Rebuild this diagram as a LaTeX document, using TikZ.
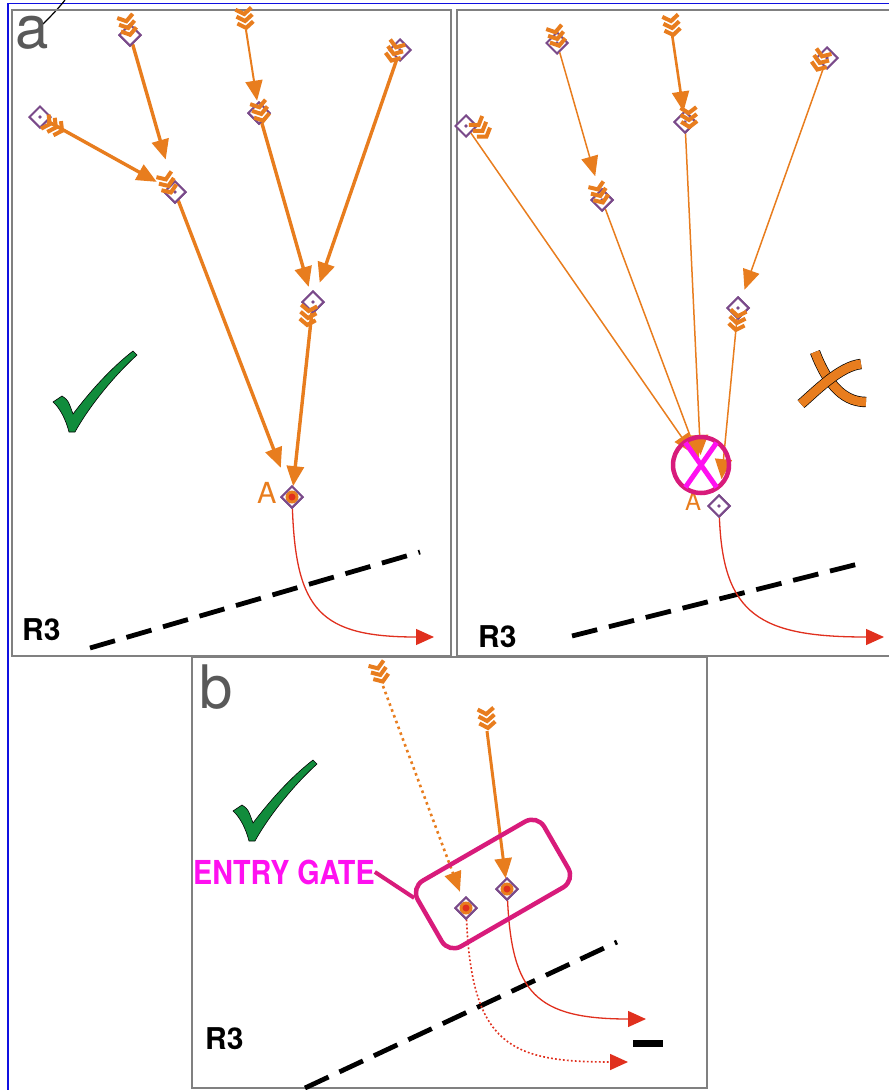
\documentclass[tikz,border=0pt]{standalone}
\usepackage{fontspec}
\setsansfont{TeX Gyre Heros}
\usepackage{xcolor}
\usetikzlibrary{arrows.meta, positioning, shapes.geometric}
\definecolor{floworange}{HTML}{E87D1E}
\definecolor{sitepurple}{HTML}{7A4A8A}
\definecolor{trackred}{HTML}{E0301E}
\definecolor{gatepink}{HTML}{D81B7B}
\definecolor{crossmag}{HTML}{FF10F0}
\definecolor{okgreen}{HTML}{118C3C}
\definecolor{frameblue}{HTML}{1010E0}

\begin{document}
\begin{tikzpicture}[x=1pt, y=-1pt,
  every node/.style = {font=\sffamily},
  panel/.style = {draw=black!50, line width=1.3pt},
  site/.style = {diamond, draw=sitepurple, line width=2pt, fill=white, minimum size=22pt, inner sep=0pt,
    path picture={\fill[sitepurple] (path picture bounding box.center) circle (1.8pt);}},
  outlet/.style = {site, path picture={\fill[floworange] (path picture bounding box.center) circle (6.5pt);
    \fill[trackred] (path picture bounding box.center) circle (3.5pt);}},
  flowline/.style = {draw=floworange, line width=3.4pt, -{Triangle[length=20pt, width=17pt]}},
  thinflow/.style = {flowline, line width=1.5pt},
  trail/.style = {flowline, line width=2.6pt, dash pattern=on 2.6pt off 3.6pt},
  track/.style = {draw=trackred, line width=1.3pt, -{Triangle[length=18pt, width=16pt]}},
  dottrack/.style = {track, line width=1.6pt, dash pattern=on 1.8pt off 2.2pt},
  boundary/.style = {draw=black, line width=4.8pt, dash pattern=on 26pt off 12pt},
  regionlabel/.style = {font=\sffamily\bfseries\fontsize{30}{30}\selectfont, anchor=base west, inner sep=0pt},
  panellabel/.style = {font=\sffamily\fontsize{60}{60}\selectfont, text=black!65, anchor=base west, inner sep=0pt},
  outletlabel/.style = {text=floworange, anchor=base west, inner sep=0pt},
  gatebox/.style = {draw=gatepink, line width=4.5pt, rounded corners=14pt, rotate=30, minimum width=146pt, minimum height=76pt},
  gatelabel/.style = {text=crossmag, font=\sffamily\bfseries\fontsize{33}{33}\selectfont, anchor=base west, inner sep=0pt},
  nogo/.style = {circle, draw=gatepink, line width=4.5pt, minimum size=56pt, inner sep=0pt},
  cross/.style = {draw=crossmag, line width=5pt, shorten <=3pt, shorten >=3pt},
  nox/.style = {draw=black, line width=0.7pt, double=floworange, double distance=9pt},
  chevs/.pic = {\foreach \k in {-7,0,7} \draw[floworange, line width=4pt] (\k-4.5,-8) -- (\k+1,0) -- (\k-4.5,8);},
  tickmark/.pic = {\filldraw[fill=okgreen, draw=black, line width=0.6pt] (0,0) -- (9,-6) .. controls (15,-2) .. (20,12)
    .. controls (42,-17) and (62,-37) .. (80,-51) -- (84,-47) .. controls (62,-27) and (37,3) .. (22,30)
    -- (16,30) .. controls (13,18) and (7,6) .. cycle;}
]
  \useasboundingbox (0,0) rectangle (889,1090);

  % frames
  \draw[frameblue, line width=1.6pt] (8,1090) -- (8,3.5) -- (889,3.5);
  \draw[line width=1.2pt] (43,24) .. controls (50,17) and (58,9) .. (65,0);
  \draw[panel] (12,10) rectangle (451,656);
  \draw[panel] (457,10) rectangle (895,656);
  \draw[panel] (192,657) rectangle (707,1088);

  \node[panellabel] (la) at (15,48) {a};
  \node[panellabel] (lb) at (199,708) {b};

  % boundaries
  \draw[boundary] (90,648) -- (420,552);
  \draw[boundary] (572,636) -- (866,562);
  \draw[boundary] (305,1088) -- (617,942);
  \node[regionlabel] (r3a) at (22,640) {R3};
  \node[regionlabel] (r3b) at (478,647) {R3};
  \node[regionlabel] (r3c) at (205,1049) {R3};

  % panel a, left
  \node[site] (n1) at (130,35) {};
  \node[site] (n2) at (40,117) {};
  \node[site] (n3) at (175,192) {};
  \coordinate (n4) at (246,30);
  \node[site] (n5) at (259,113) {};
  \node[site] (n6) at (400,50) {};
  \node[site] (n7) at (313,302) {};
  \node[outlet] (aL) at (292,497) {};
  \coordinate (e1) at (434,637);

  \draw[track] (aL) .. controls (296,610) and (320,637) .. (e1);
  \draw[flowline, shorten >=24pt] (n1) -- (n3);
  \draw[flowline, shorten >=12pt] (n2) -- (n3);
  \draw[flowline, line width=2pt, shorten >=2pt] (n4) -- (n5);
  \draw[flowline, shorten >=6pt] (n5) -- (n7);
  \draw[flowline, shorten >=11pt] (n6) -- (n7);
  \draw[flowline, shorten >=22pt] (n3) -- (aL);
  \draw[flowline, shorten >=0pt] (n7) -- (aL);
  \node[site] at (n1) {};
  \node[site] at (n3) {};
  \node[site] at (n5) {};
  \node[site] at (n7) {};
  \node[outlet] at (aL) {};

  \pic[rotate=-74.6] at (128,27) {chevs};
  \pic[rotate=-28] at (55,127) {chevs};
  \pic[rotate=-69] at (168,185) {chevs};
  \pic[rotate=-82] at (245,20) {chevs};
  \pic[rotate=-74] at (261,113) {chevs};
  \pic[rotate=-109] at (394,53) {chevs};
  \pic[rotate=-96] at (308,317) {chevs};
  \node[outletlabel, font=\sffamily\fontsize{29}{29}\selectfont] (lA) at (257,503) {A};
  \pic at (53,402) {tickmark};

  % panel a, right
  \node[site] (m1) at (557,43) {};
  \node[site] (m2) at (466,126) {};
  \node[site] (m3) at (602,200) {};
  \coordinate (m4) at (672,34);
  \node[site] (m5) at (685,122) {};
  \node[site] (m6) at (827,58) {};
  \node[site] (m7) at (738,308) {};
  \node[site] (aR) at (719,506) {};
  \coordinate (hub) at (701,465);
  \coordinate (e2) at (884,637);

  \draw[track] (aR) .. controls (723,615) and (760,637) .. (e2);
  \draw[thinflow, shorten >=15pt] (m1) -- (m3);
  \draw[thinflow, line width=2.6pt, shorten >=0pt] (m4) -- (m5);
  \draw[thinflow, shorten >=10pt] (m6) -- (m7);
  \draw[thinflow, shorten >=14pt] (m2) -- (hub);
  \draw[thinflow, shorten >=6pt] (m3) -- (hub);
  \draw[thinflow, shorten >=10pt] (m5) -- (hub);
  \draw[thinflow, shorten >=16pt] (m7) -- (aR);
  \node[site] at (m3) {};
  \node[site] at (m5) {};
  \node[site] at (m7) {};
  \node[site] at (aR) {};

  \pic[rotate=-74.5] at (557,38) {chevs};
  \pic[rotate=-56] at (482,130) {chevs};
  \pic[rotate=-69] at (600,195) {chevs};
  \pic[rotate=-81] at (672,27) {chevs};
  \pic[rotate=-87] at (689,119) {chevs};
  \pic[rotate=-110] at (820,62) {chevs};
  \pic[rotate=-98] at (737,322) {chevs};
  \node[outletlabel, font=\sffamily\fontsize{24}{24}\selectfont] (rA) at (685,510) {A};

  \node[nogo] (stop) at (hub) {};
  \draw[cross] (stop.125) -- (stop.-55);
  \draw[cross] (stop.55) -- (stop.-125);

  \draw[nox] (815,352) .. controls (825,378) and (840,402) .. (866,402);
  \draw[nox] (861,364) .. controls (840,366) and (815,392) .. (801,404);

  % panel b
  \coordinate (p1) at (383,686);
  \coordinate (p2) at (487,731);
  \node[outlet] (p3) at (466,908) {};
  \node[outlet] (p4) at (507,889) {};
  \coordinate (e3) at (646,1019);
  \coordinate (e4) at (628,1062);

  \draw[track] (p4) .. controls (512,992) and (535,1019) .. (e3);
  \draw[dottrack] (p3) .. controls (472,1045) and (510,1062) .. (e4);
  \draw[trail, shorten >=8pt] (p1) -- (p3);
  \draw[flowline, line width=3pt, shorten >=0pt] (p2) -- (p4);
  \node[outlet] at (p3) {};
  \node[outlet] at (p4) {};
  \pic[rotate=-70] at (380,674) {chevs};
  \pic[rotate=-83] at (487,720) {chevs};

  \node[gatebox] (gate) at (493,884) {};
  \node[gatelabel] (eg) at (193,884) {\scalebox{0.87}[1]{ENTRY GATE}};
  \draw[gatepink, line width=4pt] (eg.east) -- (gate.160);
  \fill (633,1040) rectangle (663,1047);
  \pic at (233,811) {tickmark};
\end{tikzpicture}
\end{document}
